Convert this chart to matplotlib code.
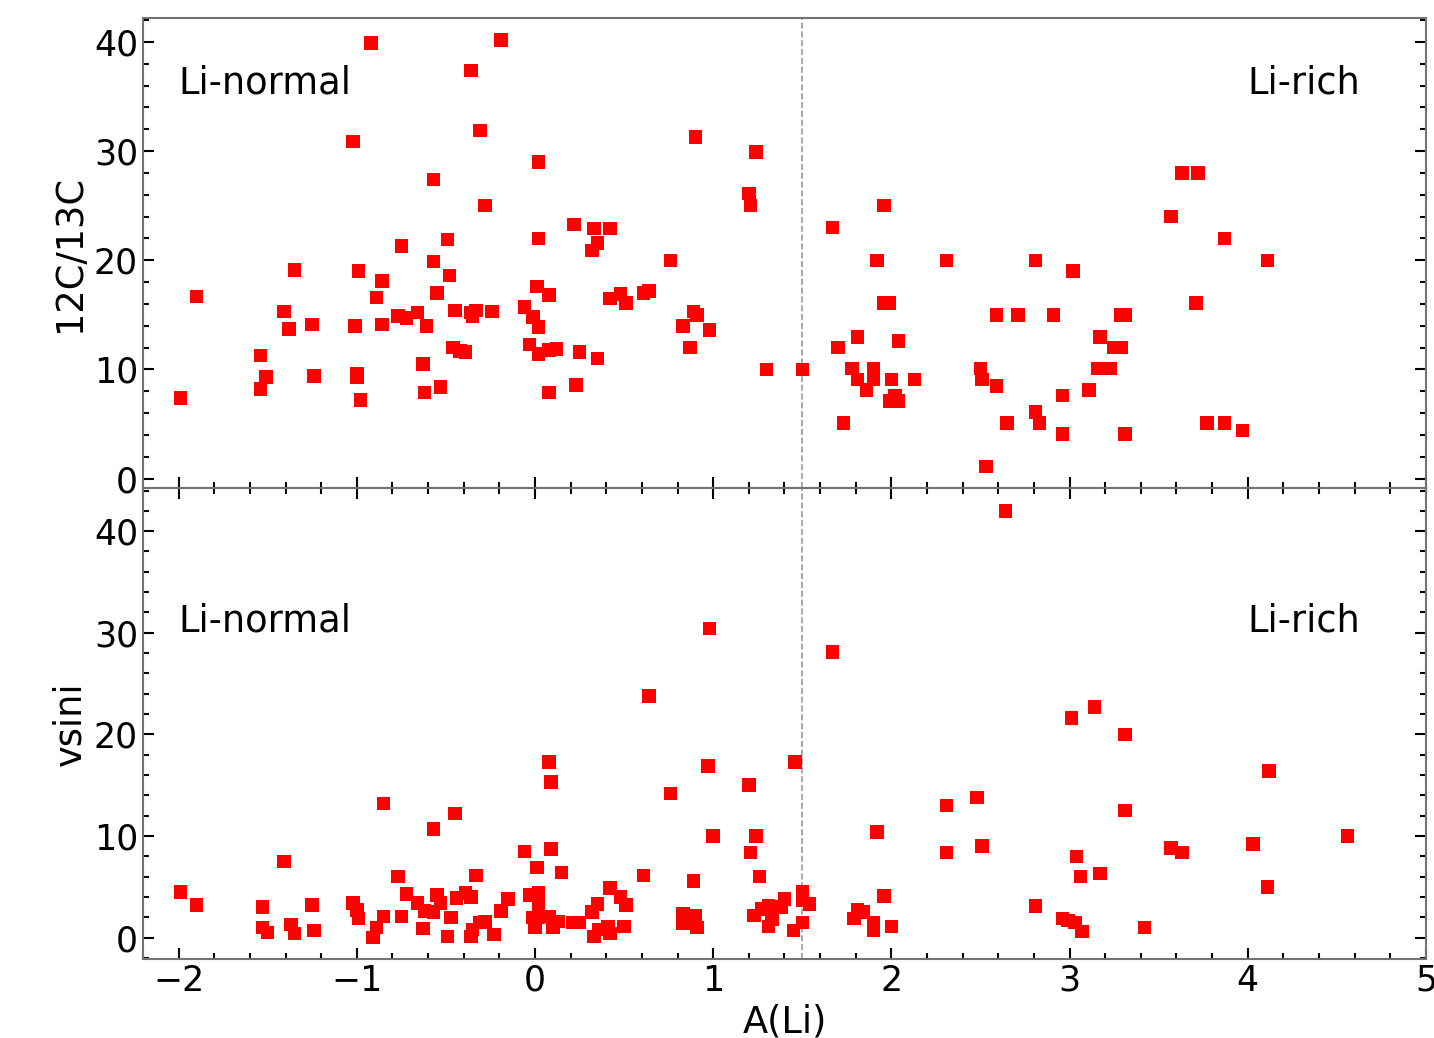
import numpy as np
import matplotlib
matplotlib.use("Agg")
import matplotlib.pyplot as plt
from matplotlib.ticker import MultipleLocator

# data
# top panel: A(Li) vs 12C/13C
ali_cc = [-1.99, -1.90, -1.54, -1.54, -1.51, -1.41, -1.38, -1.35, -1.25, -1.24,
          -1.02, -1.01, -1.00, -1.00, -0.99, -0.98, -0.92, -0.89, -0.86, -0.86,
          -0.75, -0.77, -0.72, -0.66, -0.63, -0.62, -0.61, -0.57, -0.57, -0.55,
          -0.53, -0.49, -0.48, -0.46, -0.45, -0.42, -0.39, -0.36, -0.36, -0.35,
          -0.33, -0.31, -0.28, -0.24, -0.19, -0.06, -0.03, -0.01, 0.02, 0.02,
          0.01, 0.02, 0.02, 0.08, 0.08, 0.08, 0.12, 0.22, 0.23, 0.25,
          0.32, 0.33, 0.35, 0.35, 0.42, 0.42, 0.48, 0.51, 0.61, 0.64,
          0.76, 0.83, 0.87, 0.89, 0.90, 0.91, 0.98, 1.20, 1.21, 1.24,
          1.30, 1.50, 1.67, 1.70, 1.73, 1.78, 1.81, 1.81, 1.86, 1.90,
          1.90, 1.92, 1.96, 1.96, 1.99, 2.00, 2.02, 1.99, 2.04, 2.04,
          2.13, 2.31, 2.50, 2.51, 2.53, 2.59, 2.59, 2.65, 2.71, 2.81,
          2.81, 2.83, 2.91, 2.96, 2.96, 3.02, 3.11, 3.17, 3.16, 3.23,
          3.25, 3.29, 3.29, 3.31, 3.31, 3.57, 3.63, 3.72, 3.71, 3.87,
          4.11, 3.77, 3.87, 3.97]
cc_ratio = [7.4, 16.7, 11.3, 8.2, 9.3, 15.3, 13.7, 19.1, 14.1, 9.4,
            30.9, 14.0, 9.3, 9.6, 19.0, 7.2, 39.9, 16.6, 18.1, 14.1,
            21.3, 14.9, 14.7, 15.2, 10.5, 7.9, 14.0, 27.4, 19.9, 17.0,
            8.4, 21.9, 18.6, 12.0, 15.4, 11.7, 11.6, 37.4, 15.2, 14.9,
            15.4, 31.9, 25.0, 15.3, 40.2, 15.7, 12.3, 14.8, 29.0, 22.0,
            17.6, 13.9, 11.4, 16.8, 7.9, 11.8, 11.9, 23.3, 8.6, 11.6,
            20.9, 22.9, 21.6, 11.0, 22.9, 16.5, 16.9, 16.1, 17.0, 17.2,
            20.0, 14.0, 12.0, 15.3, 31.3, 15.0, 13.6, 26.1, 25.0, 29.9,
            10.0, 10.0, 23.0, 12.0, 5.1, 10.1, 13.0, 9.1, 8.1, 10.1,
            9.1, 20.0, 25.0, 16.1, 16.1, 9.1, 7.6, 7.1, 7.1, 12.6,
            9.1, 20.0, 10.1, 9.1, 1.1, 15.0, 8.5, 5.1, 15.0, 20.0,
            6.1, 5.1, 15.0, 7.6, 4.1, 19.0, 8.1, 13.0, 10.1, 10.1,
            12.0, 12.0, 15.0, 15.0, 4.1, 24.0, 28.0, 28.0, 16.1, 22.0,
            20.0, 5.1, 5.1, 4.4]

# bottom panel: A(Li) vs vsini
ali_v = [-1.99, -1.90, -1.53, -1.53, -1.50, -1.41, -1.37, -1.35, -1.25, -1.24,
         -1.02, -1.00, -0.99, -0.91, -0.89, -0.85, -0.85, -0.77, -0.75, -0.72,
         -0.66, -0.63, -0.62, -0.57, -0.57, -0.55, -0.53, -0.49, -0.47, -0.45,
         -0.44, -0.39, -0.36, -0.33, -0.36, -0.35, -0.31, -0.28, -0.23, -0.19,
         -0.15, -0.06, -0.03, 0.01, 0.02, 0.02, -0.01, 0.02, 0.00, 0.08,
         0.09, 0.10, 0.13, 0.15, 0.08, 0.09, 0.21, 0.25, 0.32, 0.35,
         0.33, 0.36, 0.41, 0.42, 0.42, 0.48, 0.51, 0.50, 0.61, 0.64,
         0.76, 0.83, 0.83, 0.89, 0.90, 0.91, 0.97, 0.98, 1.00, 1.20,
         1.21, 1.24, 1.26, 1.23, 1.27, 1.31, 1.31, 1.33, 1.38, 1.40,
         1.45, 1.46, 1.50, 1.50, 1.54, 1.50, 1.67, 1.79, 1.81, 1.84,
         1.90, 1.90, 1.92, 1.96, 2.00, 2.31, 2.31, 2.48, 2.51, 2.64,
         2.81, 2.96, 2.99, 3.01, 3.03, 3.04, 3.06, 3.07, 3.14, 3.17,
         3.31, 3.31, 3.42, 3.57, 3.63, 4.03, 4.11, 4.12, 4.56]
vsini = [4.5, 3.2, 3.0, 1.0, 0.5, 7.5, 1.3, 0.4, 3.2, 0.7,
         3.4, 2.7, 1.9, 0.0, 1.0, 13.2, 2.1, 6.0, 2.1, 4.3,
         3.4, 0.9, 2.6, 10.7, 2.5, 4.2, 3.4, 0.1, 2.0, 12.2,
         3.9, 4.4, 4.0, 6.1, 0.1, 0.8, 1.5, 1.6, 0.3, 2.6,
         3.8, 8.5, 4.2, 6.9, 4.4, 3.0, 2.0, 2.0, 1.0, 2.1,
         8.7, 1.0, 1.6, 6.4, 17.3, 15.3, 1.5, 1.5, 2.5, 3.3,
         0.1, 0.8, 1.1, 0.4, 4.9, 4.0, 3.2, 1.1, 6.1, 23.8,
         14.2, 2.4, 1.4, 5.6, 2.2, 1.0, 16.9, 30.4, 10.0, 15.0,
         8.4, 10.0, 6.0, 2.2, 2.8, 3.1, 1.1, 1.8, 3.0, 3.8,
         0.7, 17.3, 4.5, 3.7, 3.3, 1.5, 28.1, 1.9, 2.7, 2.5,
         1.5, 0.7, 10.4, 4.1, 1.1, 13.0, 8.4, 13.8, 9.0, 42.0,
         3.1, 1.9, 1.7, 21.6, 1.5, 8.0, 6.0, 0.6, 22.7, 6.3,
         20.0, 12.5, 1.0, 8.8, 8.4, 9.2, 5.0, 16.4, 10.0]

li_limit = 1.5
fs = 25
fs_lab = 26.5

fig, (ax1, ax2) = plt.subplots(2, 1, sharex=True, figsize=(14.34, 10.38), dpi=100)
fig.subplots_adjust(left=0.0997, right=0.9944, top=0.9827, bottom=0.0761, hspace=0)

ax1.scatter(ali_cc, cc_ratio, marker="s", s=95, color="red", edgecolors="none", zorder=3)
ax2.scatter(ali_v, vsini, marker="s", s=95, color="red", edgecolors="none", zorder=3)

for ax in (ax1, ax2):
    ax.axvline(li_limit, color="0.6", ls="--", lw=1.2, zorder=1)
    ax.yaxis.set_major_locator(MultipleLocator(10))
    ax.yaxis.set_minor_locator(MultipleLocator(2))
    ax.xaxis.set_major_locator(MultipleLocator(1))
    ax.xaxis.set_minor_locator(MultipleLocator(0.2))
    ax.tick_params(which="both", direction="in", labelsize=fs, width=1.5)
    ax.tick_params(which="major", length=8)
    ax.tick_params(which="minor", length=4)
    for sp in ax.spines.values():
        sp.set_color("0.45")
        sp.set_linewidth(1.5)

ax1.tick_params(which="both", left=True, right=True, bottom=True, top=False)
ax2.tick_params(which="both", left=True, right=True, bottom=True, top=True)

ax1.set_xlim(-2.2, 5.0)
ax1.set_ylim(-0.9, 42.2)
ax2.set_ylim(-2.1, 44.2)

ax1.text(-2.0, 36.2, "Li-normal", fontsize=fs_lab, va="center")
ax1.text(4.63, 36.2, "Li-rich", fontsize=fs_lab, va="center", ha="right")
ax2.text(-2.0, 31.2, "Li-normal", fontsize=fs_lab, va="center")
ax2.text(4.63, 31.2, "Li-rich", fontsize=fs_lab, va="center", ha="right")

ax1.set_ylabel("12C/13C", fontsize=fs_lab)
ax2.set_ylabel("vsini", fontsize=fs_lab)
ax2.set_xlabel("A(Li)", fontsize=fs_lab)

fig.savefig("out.png", dpi=100)
